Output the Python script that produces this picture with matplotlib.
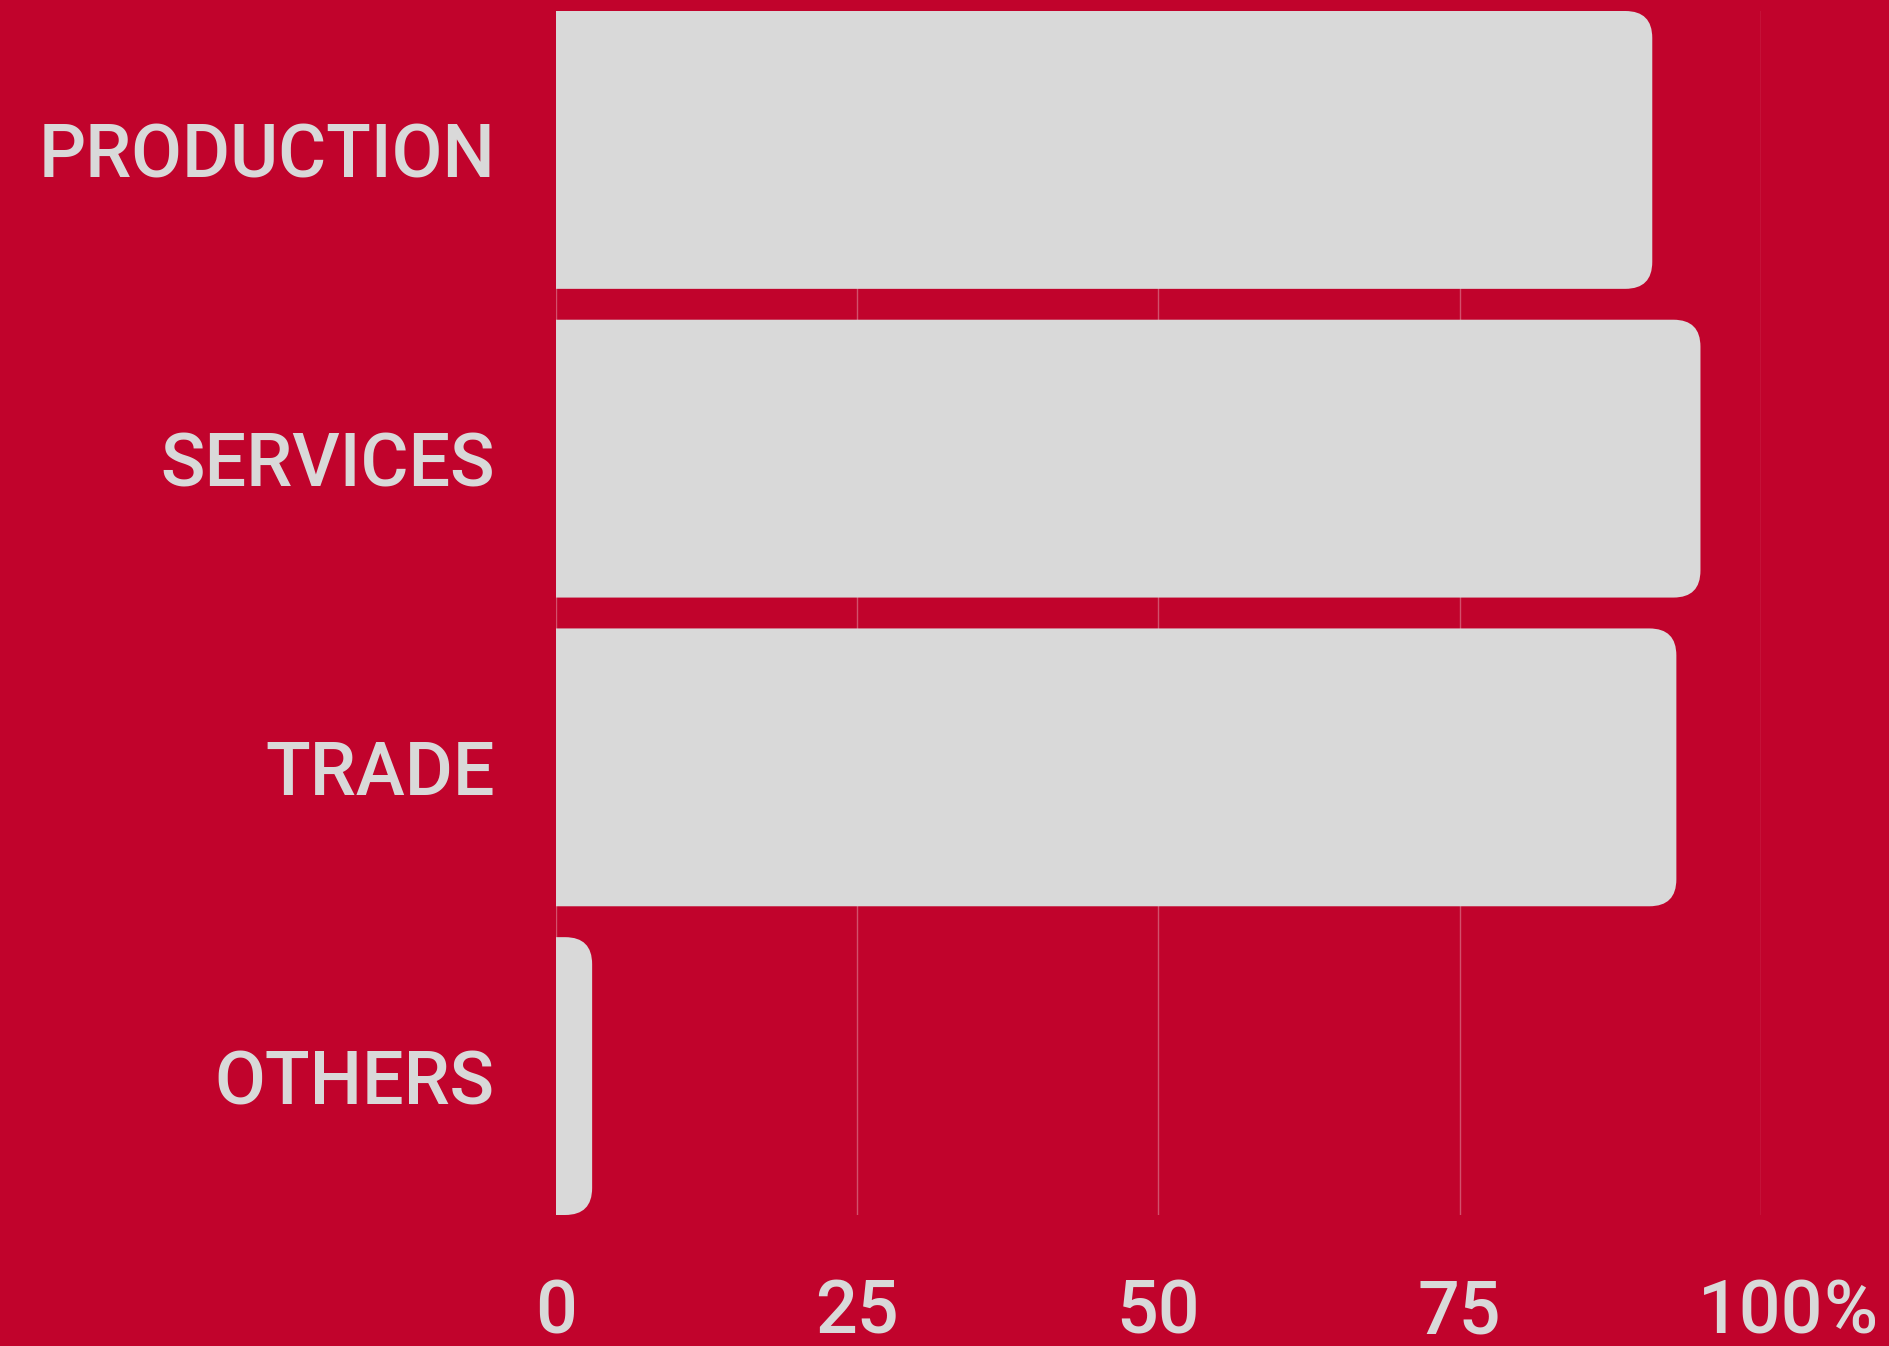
import matplotlib
matplotlib.use("Agg")
import matplotlib.pyplot as plt
from matplotlib.patches import FancyBboxPatch
from matplotlib.transforms import ScaledTranslation

categories = ["PRODUCTION", "SERVICES", "TRADE", "OTHERS"]
values = [91, 95, 93, 3]
xticks = [0, 25, 50, 75, 100]
xticklabels = ["0", "25", "50", "75", "100"]

BG = "#C1032C"
FG = "#D9D9D9"
GRID = "#D2506B"
FONT = ["Roboto", "DejaVu Sans"]
FS = 53

W, H, DPI = 1889, 1346, 100
fig = plt.figure(figsize=(W / DPI, H / DPI), dpi=DPI, facecolor=BG)
ax = fig.add_axes([556 / W, 1 - 1215 / H, (1760.7 - 556) / W, (1215 - 11) / H])
ax.set_facecolor(BG)

ypos = list(range(len(categories)))
bars = ax.barh(ypos, values, height=0.9, color=FG, zorder=2)
ax.set_xlim(0, 100)
ax.set_ylim(len(categories) - 0.55, -0.45)

for s in ax.spines.values():
    s.set_visible(False)
ax.set_xticks(xticks)
ax.set_xticklabels(xticklabels)
ax.set_yticks(ypos)
ax.set_yticklabels(categories)
ax.tick_params(axis="both", length=0, colors=FG)
ax.tick_params(axis="y", pad=44)
ax.tick_params(axis="x", pad=45)
for lab in ax.get_yticklabels() + ax.get_xticklabels():
    lab.set_fontfamily(FONT)
    lab.set_fontsize(FS)
    lab.set_fontweight("medium")
    lab.set_color(FG)
ax.grid(axis="x", color=GRID, linewidth=1.0, zorder=0)
ax.set_axisbelow(True)

# rounded right ends
fig.canvas.draw()
p0 = ax.transData.transform((0, 0))
p1 = ax.transData.transform((1, 1))
sx = abs(p1[0] - p0[0])
sy = abs(p1[1] - p0[1])
r_px = 27
r = r_px / sx
aspect = sx / sy
for b in bars:
    x, y, w, h = b.get_x(), b.get_y(), b.get_width(), b.get_height()
    b.set_visible(False)
    patch = FancyBboxPatch((x - r, y), w + r, h,
                           boxstyle=f"round,pad=0,rounding_size={r}",
                           mutation_aspect=aspect,
                           facecolor=FG, edgecolor="none", zorder=2)
    ax.add_patch(patch)

# percent sign after the 100 tick label
fig.canvas.draw()
renderer = fig.canvas.get_renderer()
lab100 = ax.get_xticklabels()[-1]
bb = lab100.get_window_extent(renderer)
dx = (bb.x1 - bb.x0) / 2 / DPI
ax.text(*lab100.get_position(), "%",
        transform=lab100.get_transform() + ScaledTranslation(dx, 0, fig.dpi_scale_trans),
        ha="left", va=lab100.get_va(), fontsize=FS, fontweight="medium",
        family=FONT, color=FG, clip_on=False)

fig.savefig("out.png", dpi=DPI, facecolor=BG)
